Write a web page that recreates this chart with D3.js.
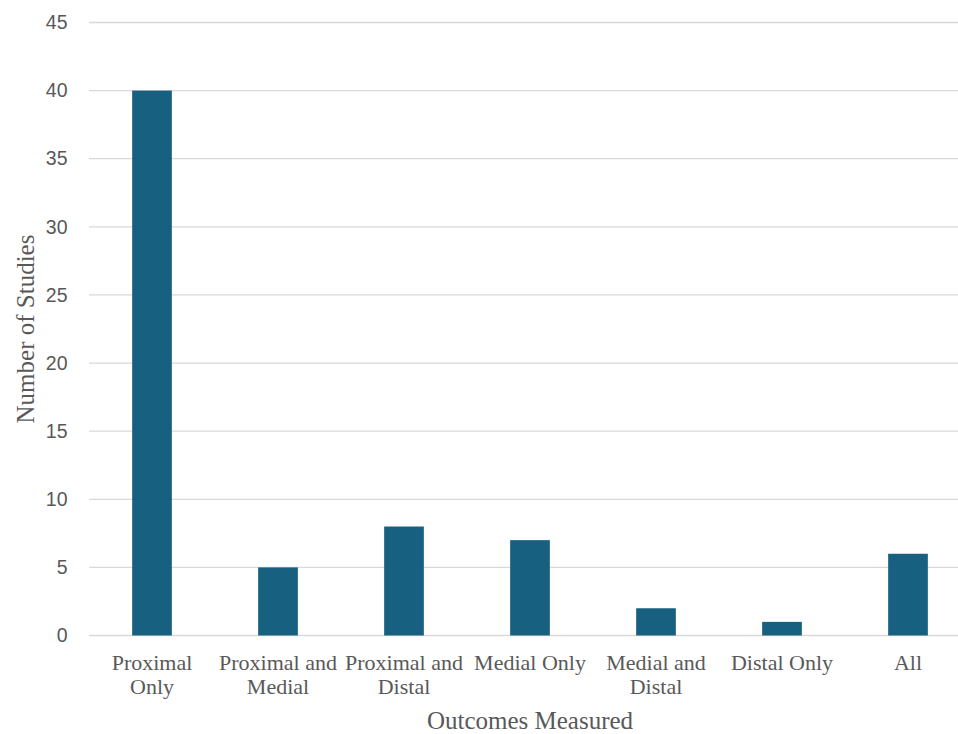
<!DOCTYPE html>
<html><head><meta charset="utf-8">
<script src="https://cdn.jsdelivr.net/npm/d3@7"></script>
<style>body{margin:0;background:#fff;} svg{display:block;}</style>
</head><body>
<svg id="chart" width="958" height="734"></svg>
<script>
const categories = [["Proximal","Only"],["Proximal and","Medial"],["Proximal and","Distal"],["Medial Only"],["Medial and","Distal"],["Distal Only"],["All"]];
const values = [40, 5, 8, 7, 2, 1, 6];
const yTicks = [0,5,10,15,20,25,30,35,40,45];

const svg = d3.select("#chart");
const keys = categories.map(c => c.join(" "));
const x = d3.scaleBand().domain(keys).range([89, 971]).paddingInner(0.685).paddingOuter(0.3425);
const y = d3.scaleLinear().domain([0,45]).range([635.5, 22.5]);

// gridlines
svg.append("g").selectAll("line").data(yTicks).join("line")
  .attr("x1", 89).attr("x2", 971)
  .attr("y1", d => y(d)).attr("y2", d => y(d))
  .attr("stroke", "#d9d9d9").attr("stroke-width", 1.3);

// bars
svg.append("g").selectAll("rect").data(values).join("rect")
  .attr("x", (d,i) => x(keys[i]))
  .attr("width", x.bandwidth())
  .attr("y", d => y(d))
  .attr("height", d => y(0) - y(d))
  .attr("fill", "#17607f");

// y axis labels
const yAxis = d3.axisLeft(y).tickValues(yTicks).tickSize(0).tickPadding(0);
const yg = svg.append("g").attr("transform","translate(67.5,0)").call(yAxis);
yg.select(".domain").remove();
yg.selectAll("text").attr("font-family","'Liberation Sans', Arial, sans-serif").attr("font-size",19.5).attr("fill","#595959");

// x axis labels
const xg = svg.append("g");
categories.forEach((lines,i) => {
  const cx = x(keys[i]) + x.bandwidth()/2;
  const t = xg.append("text")
    .attr("x", cx)
    .attr("text-anchor","middle")
    .attr("font-family","'Liberation Serif','Times New Roman',serif")
    .attr("font-size",22).attr("fill","#595959");
  lines.forEach((l,j) => t.append("tspan").attr("x", cx).attr("y", 670 + j*24.3).text(l));
});

// axis titles
svg.append("text").attr("x", 530).attr("y", 728.5).attr("text-anchor","middle")
  .attr("font-family","'Liberation Serif','Times New Roman',serif").attr("font-size",25).attr("fill","#595959")
  .text("Outcomes Measured");
svg.append("text").attr("transform","translate(34,329) rotate(-90)").attr("text-anchor","middle")
  .attr("font-family","'Liberation Serif','Times New Roman',serif").attr("font-size",25).attr("fill","#595959")
  .text("Number of Studies");
</script>
</body></html>
